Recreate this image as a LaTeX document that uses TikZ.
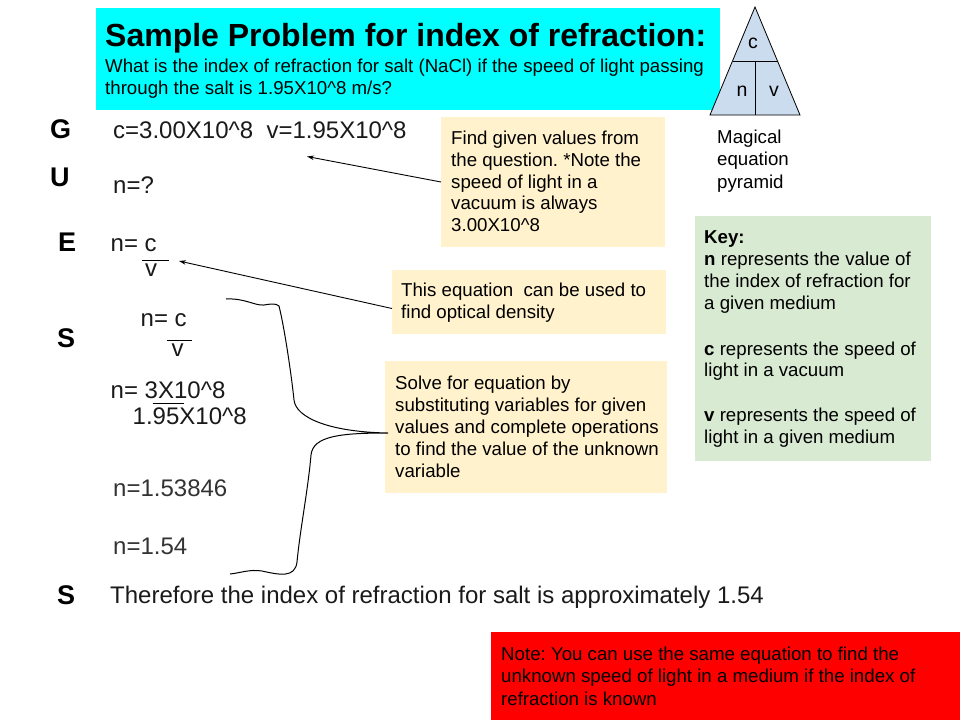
\documentclass[tikz,border=0pt]{standalone}
\usepackage{fontspec}
\setmainfont{Liberation Sans}
\usetikzlibrary{arrows.meta}
\frenchspacing
\definecolor{cyanbox}{HTML}{00FFFF}
\definecolor{notebox}{HTML}{FFF2CC}
\definecolor{keybox}{HTML}{D9EAD3}
\definecolor{pyr}{HTML}{CBDCEE}
\definecolor{redbox}{HTML}{FF0000}
\definecolor{bodytxt}{HTML}{1A1A1A}
\tikzset{
  body/.style={anchor=base west, inner sep=0pt, text=bodytxt, font=\fontsize{24}{28}\selectfont},
  letter/.style={anchor=base west, inner sep=0pt, font=\bfseries\fontsize{27}{30}\selectfont},
  note/.style={anchor=base west, inner sep=0pt, font=\fontsize{18.67}{22}\selectfont},
  ttl/.style={anchor=base west, inner sep=0pt, font=\bfseries\fontsize{32}{36}\selectfont},
  pyrlbl/.style={anchor=center, inner sep=0pt, font=\fontsize{19.5}{22}\selectfont},
  conn/.style={line width=0.9pt, -{Stealth[length=7pt,width=4.5pt]}},
  frac/.style={line width=1pt},
  brace/.style={line width=1pt, black}
}
\begin{document}
\begin{tikzpicture}[x=1pt,y=-1pt]
\useasboundingbox (0,0) rectangle (960,720);
\fill[white] (0,0) rectangle (960,720);

% title box
\fill[cyanbox] (96,8) rectangle (720,110);
\node[ttl] (title) at (105,46) {Sample Problem for index of refraction:};
\node[note] (q1) at (105,72) {What is the index of refraction for salt (NaCl) if the speed of light passing};
\node[note] (q2) at (105,94) {through the salt is 1.95X10\textasciicircum8 m/s?};

% pyramid
\draw[fill=pyr, line width=0.8pt] (755,7) -- (800,115) -- (710,115) -- cycle;
\draw[line width=0.8pt] (732.5,61) -- (777.5,61);
\draw[line width=0.8pt] (755,61) -- (755,115);
\node[pyrlbl] (pc) at (753,43) {c};
\node[pyrlbl] (pn) at (742,91) {n};
\node[pyrlbl] (pv) at (774,91) {v};
\node[note] (m1) at (717,143) {Magical};
\node[note] (m2) at (717,165.5) {equation};
\node[note] (m3) at (717,188) {pyramid};

% GUESS letters
\node[letter] (G) at (50,138.5) {G};
\node[letter] (U) at (50,186.5) {U};
\node[letter] (E) at (58,251.5) {E};
\node[letter] (S1) at (57,347) {S};
\node[letter] (S2) at (57,604) {S};

% body
\node[body] (given) at (113,138) {c=3.00X10\textasciicircum8\ \ v=1.95X10\textasciicircum8};
\node[body] (unk) at (113,193) {n=?};
\node[body] (eq1) at (110.5,251.5) {n= c};
\draw[frac] (142,260.7) -- (169,260.7);
\node[body] (eq1v) at (145,276.5) {v};
\node[body] (eq2) at (140.5,326.5) {n= c};
\draw[frac] (166.5,340.7) -- (191.5,340.7);
\node[body] (eq2v) at (171.5,356.5) {v};
\node[body] (sub1) at (110.5,398) {n= 3X10\textasciicircum8};
\draw[frac] (152.5,403.7) -- (184,403.7);
\node[body] (sub2) at (132.5,424) {1.95X10\textasciicircum8};
\node[body, text=black!80] (r1) at (113,496.5) {n=1.53846};
\node[body, text=black!80] (r2) at (113,554.5) {n=1.54};
\node[body] (concl) at (110,603) {Therefore the index of refraction for salt is approximately 1.54};

% note box 1
\fill[notebox] (441,117) rectangle (665,247);
\coordinate (b1w) at (441,182);
\node[note] (n11) at (451,144) {Find given values from};
\node[note] (n12) at (451,166) {the question. *Note the};
\node[note] (n13) at (451,188) {speed of light in a};
\node[note] (n14) at (451,209.5) {vacuum is always};
\node[note] (n15) at (451,231.5) {3.00X10\textasciicircum8};
\coordinate (a1) at (307,156.5);
\draw[conn] (b1w) -- (a1);

% note box 2
\fill[notebox] (392,270) rectangle (666,334);
\coordinate (b2w) at (392,308.5);
\node[note] (n21) at (401,296.5) {This equation\ \ can be used to};
\node[note] (n22) at (401,318.3) {find optical density};
\coordinate (a2) at (179,261);
\draw[conn] (b2w) -- (a2);

% note box 3
\fill[notebox] (385,361) rectangle (667,493);
\node[note] (n31) at (395,389) {Solve for equation by};
\node[note] (n32) at (395,411) {substituting variables for given};
\node[note] (n33) at (395,433.3) {values and complete operations};
\node[note] (n34) at (395,455.5) {to find the value of the unknown};
\node[note] (n35) at (395,477.5) {variable};

% brace
\coordinate (btip) at (388,433);
\coordinate (btop) at (226,299);
\coordinate (bbot) at (230,574);
\draw[brace] (btop) .. controls (245,298) and (255,306) .. (264,305)
  .. controls (270,304) and (276,303) .. (279,306)
  .. controls (285,330) and (292,380) .. (294,400)
  .. controls (296,418) and (330,432) .. (btip)
  .. controls (340,433) and (313,436) .. (311,455)
  .. controls (308,490) and (300,530) .. (297,562)
  .. controls (295,578) and (280,575) .. (262,571)
  .. controls (250,569) and (240,573) .. (bbot);

% key box
\fill[keybox] (695,216) rectangle (931,461);
\node[note] (k0) at (704,243.3) {\bfseries Key:};
\node[note] (k1) at (704,265) {\textbf{n} represents the value of};
\node[note] (k2) at (704,287.3) {the index of refraction for};
\node[note] (k3) at (704,309.3) {a given medium};
\node[note] (k4) at (704,355) {\textbf{c} represents the speed of};
\node[note] (k5) at (704,376.7) {light in a vacuum};
\node[note] (k6) at (704,421.7) {\textbf{v} represents the speed of};
\node[note] (k7) at (704,443.3) {light in a given medium};

% red note
\fill[redbox] (491,632) rectangle (960,720);
\node[note] (r21) at (501,660) {Note: You can use the same equation to find the};
\node[note] (r22) at (501,682.5) {unknown speed of light in a medium if the index of};
\node[note] (r23) at (501,705) {refraction is known};
\end{tikzpicture}
\end{document}
